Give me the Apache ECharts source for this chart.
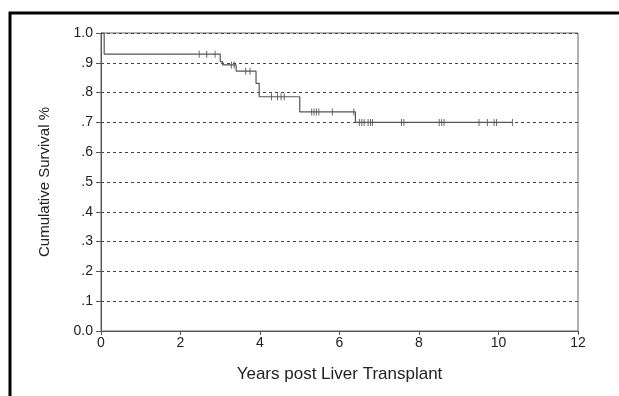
<!DOCTYPE html>
<html>
<head>
<meta charset="utf-8">
<script src="https://cdn.jsdelivr.net/npm/echarts@6/dist/echarts.min.js"></script>
<style>
  html, body { margin: 0; padding: 0; background: #fff; }
  #chart { width: 619px; height: 396px; }
</style>
</head>
<body>
<div id="chart"></div>
<script>
// step points of the Kaplan-Meier curve (years, cumulative survival)
const stepTimes = [0, 0.08, 3.0, 3.06, 3.40, 3.90, 3.98, 5.0, 6.40, 10.35]
const stepSurvival = [1.0, 0.929, 0.904, 0.893, 0.872, 0.831, 0.786, 0.735, 0.70, 0.70]

// censored cases (tick marks on the curve)
const censorTimes = [2.47, 2.66, 2.87, 3.28, 3.35, 3.64, 3.75, 4.29, 4.44, 4.53, 4.61,
  5.30, 5.36, 5.42, 5.48, 5.82, 6.36, 6.50, 6.56, 6.62, 6.72, 6.78, 6.83,
  7.56, 7.62, 8.51, 8.57, 8.63, 9.51, 9.72, 9.89, 9.95, 10.35]

const xTicks = [0, 2, 4, 6, 8, 10, 12]
const yTickLabels = ['0.0', '.1', '.2', '.3', '.4', '.5', '.6', '.7', '.8', '.9', '1.0']

// survival level at time t (value of the step function)
const levelAt = (t) => {
  let s = stepSurvival[0]
  for (let i = 0; i < stepTimes.length; i++) {
    if (stepTimes[i] <= t) s = stepSurvival[i]
  }
  return s
}

const chart = echarts.init(document.getElementById('chart'))
const font = 'Liberation Sans, Arial, sans-serif'

const option = {
  animation: false,
  textStyle: { fontFamily: font },
  grid: {
    left: 101, right: 41, top: 33, bottom: 65,
    show: true, borderColor: '#666', borderWidth: 1
  },
  xAxis: {
    type: 'value',
    min: 0, max: 12, interval: 2,
    name: 'Years post Liver Transplant',
    nameLocation: 'middle',
    nameGap: 35,
    nameTextStyle: { fontSize: 17, color: '#222', fontFamily: font },
    axisLine: { show: true, lineStyle: { color: '#555', width: 1 } },
    axisTick: { show: true, length: 4, lineStyle: { color: '#555' } },
    axisLabel: {
      fontSize: 14, color: '#222', margin: 5, fontFamily: font,
      formatter: (v) => xTicks.includes(v) ? String(v) : ''
    },
    splitLine: { show: false }
  },
  yAxis: {
    type: 'value',
    min: 0, max: 1, interval: 0.1,
    name: 'Cumulative Survival %',
    nameLocation: 'middle',
    nameGap: 49,
    nameTextStyle: { fontSize: 15, color: '#222', fontFamily: font },
    axisLine: { show: true, lineStyle: { color: '#555', width: 1 } },
    axisTick: { show: true, length: 5, lineStyle: { color: '#555' } },
    axisLabel: {
      fontSize: 14, color: '#222', margin: 8, fontFamily: font,
      formatter: (v) => yTickLabels[Math.round(v * 10)]
    },
    splitLine: { show: true, lineStyle: { color: '#444', type: [3, 3], width: 1 } }
  },
  graphic: [
    {
      type: 'rect',
      shape: { x: 10, y: 13, width: 800, height: 600 },
      style: { fill: 'none', stroke: '#000', lineWidth: 3 },
      silent: true
    }
  ],
  series: [
    {
      name: 'Survival',
      type: 'line',
      step: 'end',
      data: stepTimes.map((t, i) => [t, stepSurvival[i]]),
      showSymbol: false,
      lineStyle: { color: '#555', width: 1.2 }
    },
    {
      name: 'Censored',
      type: 'scatter',
      data: censorTimes.map((t) => [t, levelAt(t)]),
      symbol: 'rect',
      symbolSize: [1, 7],
      itemStyle: { color: '#444' }
    }
  ]
}
chart.setOption(option)
</script>
</body>
</html>
